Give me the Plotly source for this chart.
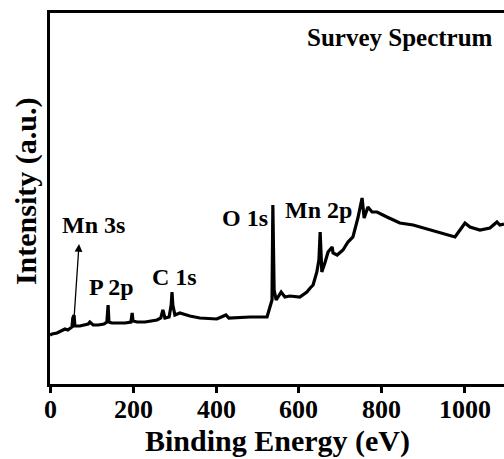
import plotly.graph_objects as go

# Binding energy (eV) and intensity (a.u., arbitrary scale)
energy = [0, 5, 17, 29, 36, 43, 53, 55, 58, 60, 72, 92, 96, 104, 116, 130, 137, 140, 142,
          149, 181, 195, 198, 200, 210, 229, 258, 267, 272, 277, 287, 292, 294, 296, 301,
          313, 337, 361, 402, 424, 431, 482, 523, 530, 535, 537, 540, 545, 549, 557, 566,
          578, 602, 619, 627, 634, 643, 648, 651, 653, 655, 663, 670, 680, 682, 692, 706,
          718, 730, 742, 752, 757, 766, 776, 788, 812, 843, 875, 916, 957, 976, 988, 1000,
          1012, 1036, 1060, 1077, 1084, 1094]
intensity = [49, 50, 51, 53, 55, 54, 57, 66, 69, 58, 58, 60, 62, 59, 59, 60, 62, 79, 62,
             61, 61, 62, 71, 63, 62, 62, 64, 66, 74, 66, 67, 79, 92, 79, 69,
             71, 68, 66, 65, 69, 66, 67, 67, 77, 84, 179, 94, 84, 87, 92, 87,
             88, 87, 92, 96, 99, 112, 124, 152, 119, 112, 122, 132, 137, 131, 129, 134,
             142, 147, 166, 186, 166, 177, 172, 172, 167, 161, 159, 154, 149, 147, 154, 161,
             157, 154, 156, 162, 159, 160]

peak_labels = ["Mn 3s", "P 2p", "C 1s", "O 1s", "Mn 2p"]
label_x = [104, 147, 301, 470, 646]
label_y = [159, 97, 107, 166, 174]

xticks = [0, 200, 400, 600, 800, 1000]
xtick_labels = ["0", "200", "400", "600", "800", "1000"]

FONT = "Liberation Serif"
PLOT_H = 371  # plot area height in px, used for paper-coordinate offsets

fig = go.Figure()
fig.add_trace(go.Scatter(x=energy, y=intensity, mode="lines",
                         line=dict(color="black", width=3.2), showlegend=False,
                         hoverinfo="skip"))

for t, x, y in zip(peak_labels, label_x, label_y):
    fig.add_annotation(x=x, y=y, xref="x", yref="y", text="<b>%s</b>" % t,
                       showarrow=False, font=dict(family=FONT, size=24, color="black"),
                       xanchor="center", yanchor="middle")

# arrow pointing from Mn 3s peak up to its label
fig.add_annotation(x=70, y=140, ax=58, ay=66, xref="x", yref="y", axref="x", ayref="y",
                   text="", showarrow=True, arrowhead=2, arrowsize=1.2, arrowwidth=1.3,
                   arrowcolor="black")

fig.add_annotation(x=843, y=347, xref="x", yref="y", text="<b>Survey Spectrum</b>",
                   showarrow=False, font=dict(family=FONT, size=25, color="black"),
                   xanchor="center", yanchor="middle")

# bold tick labels
for v, lab in zip(xticks, xtick_labels):
    fig.add_annotation(x=v, y=-25 / PLOT_H, xref="x", yref="paper", text="<b>%s</b>" % lab,
                       showarrow=False, font=dict(family=FONT, size=26, color="black"),
                       xanchor="center", yanchor="middle")

fig.add_annotation(x=0.5, y=-57 / PLOT_H, xref="paper", yref="paper",
                   text="<b>Binding Energy (eV)</b>", showarrow=False,
                   font=dict(family=FONT, size=30, color="black"),
                   xanchor="center", yanchor="middle")

fig.add_annotation(x=-24 / 454, y=0.52, xref="paper", yref="paper",
                   text="<b>Intensity (a.u.)</b>", textangle=-90, showarrow=False,
                   font=dict(family=FONT, size=30, color="black"),
                   xanchor="center", yanchor="middle")

fig.update_layout(
    width=504, height=459,
    margin=dict(l=50, r=0, t=13, b=75),
    paper_bgcolor="white", plot_bgcolor="white",
    xaxis=dict(range=[0, 1094], tickvals=xticks, showticklabels=False,
               showline=True, linecolor="black", linewidth=3, mirror=True,
               ticks="outside", ticklen=6, tickwidth=3, tickcolor="black",
               showgrid=False, zeroline=False),
    yaxis=dict(range=[0, 371], showline=True, linecolor="black", linewidth=3,
               showticklabels=False, ticks="", showgrid=False, zeroline=False),
)

fig.write_html("out.html")
